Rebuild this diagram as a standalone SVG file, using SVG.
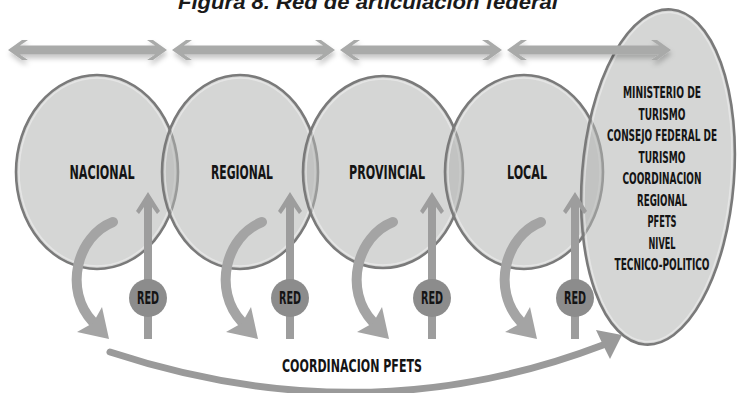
<svg xmlns="http://www.w3.org/2000/svg" width="739" height="393" viewBox="0 0 739 393">
<defs>
<filter id="sh" x="-10%" y="-50%" width="120%" height="250%">
<feDropShadow dx="1" dy="4" stdDeviation="2.5" flood-color="#000" flood-opacity="0.22"/>
</filter>
</defs>
<style>
.node{fill:#b3b4b3;fill-opacity:0.55;stroke:#7a7a7a;stroke-width:2.6}
.rim{fill:none;stroke:#f2f2f2;stroke-opacity:0.55;stroke-width:1.5}
.lbl{font-family:"DejaVu Sans Condensed","DejaVu Sans",sans-serif;font-weight:bold;fill:#141414;text-anchor:middle}
.big{font-size:19px}
.sm{font-size:16.5px}
.rd{font-size:17px}
.top{fill:#a9aaa9;filter:url(#sh)}
.up{fill:#9d9d9d}
.curve{fill:none;stroke:#a4a4a4;stroke-width:10;stroke-linecap:round}
.head{fill:#a4a4a4}
.bcurve{fill:none;stroke:#9a9a9a;stroke-width:7;stroke-linecap:round}
.bhead{fill:#9a9a9a}
.red{fill:#8c8c8c}
</style>
<rect width="739" height="393" fill="#ffffff"/>
<text x="368" y="9" font-family="Liberation Sans, Arial, sans-serif" font-size="21" font-weight="bold" font-style="italic" fill="#1a1a1a" text-anchor="middle" textLength="380" lengthAdjust="spacingAndGlyphs">Figura 8. Red de articulación federal</text>

<g id="nacional">
<ellipse class="node" cx="97" cy="172" rx="81" ry="97"/>
<ellipse class="rim" cx="97" cy="172" rx="78" ry="94"/>
<text class="lbl big" x="102" y="179" textLength="65" lengthAdjust="spacingAndGlyphs">NACIONAL</text>
</g>
<g id="regional">
<ellipse class="node" cx="240" cy="172" rx="78" ry="97"/>
<ellipse class="rim" cx="240" cy="172" rx="75" ry="94"/>
<text class="lbl big" x="242" y="179" textLength="62" lengthAdjust="spacingAndGlyphs">REGIONAL</text>
</g>
<g id="provincial">
<ellipse class="node" cx="383" cy="172" rx="80" ry="96"/>
<ellipse class="rim" cx="383" cy="172" rx="77" ry="93"/>
<text class="lbl big" x="387" y="179" textLength="76" lengthAdjust="spacingAndGlyphs">PROVINCIAL</text>
</g>
<g id="local">
<ellipse class="node" cx="524" cy="172" rx="79" ry="97"/>
<ellipse class="rim" cx="524" cy="172" rx="76" ry="94"/>
<text class="lbl big" x="527" y="179" textLength="40" lengthAdjust="spacingAndGlyphs">LOCAL</text>
</g>
<g id="ministerio">
<ellipse class="node" cx="658" cy="177" rx="76" ry="168" transform="rotate(4.5 658 177)"/>
<ellipse class="rim" cx="658" cy="177" rx="73" ry="165" transform="rotate(4.5 658 177)"/>
<text class="lbl sm" x="662" y="98" textLength="78" lengthAdjust="spacingAndGlyphs">MINISTERIO DE</text>
<text class="lbl sm" x="662" y="119.5" textLength="47" lengthAdjust="spacingAndGlyphs">TURISMO</text>
<text class="lbl sm" x="662" y="141" textLength="110" lengthAdjust="spacingAndGlyphs">CONSEJO FEDERAL DE</text>
<text class="lbl sm" x="662" y="162.5" textLength="47" lengthAdjust="spacingAndGlyphs">TURISMO</text>
<text class="lbl sm" x="662" y="184" textLength="79" lengthAdjust="spacingAndGlyphs">COORDINACION</text>
<text class="lbl sm" x="662" y="205.5" textLength="50" lengthAdjust="spacingAndGlyphs">REGIONAL</text>
<text class="lbl sm" x="662" y="227" textLength="29" lengthAdjust="spacingAndGlyphs">PFETS</text>
<text class="lbl sm" x="662" y="248.5" textLength="27" lengthAdjust="spacingAndGlyphs">NIVEL</text>
<text class="lbl sm" x="662" y="270" textLength="95" lengthAdjust="spacingAndGlyphs">TECNICO-POLITICO</text>
</g>

<g id="connectors">
<path class="top" d="M8,50 L22,40 L28,40 L20,45.5 L155,45.5 L147,40 L153,40 L167,50 L153,60 L147,60 L155,54.5 L20,54.5 L28,60 L22,60 Z"/>
<path class="top" d="M172,50 L186,40 L192,40 L184,45.5 L323,45.5 L315,40 L321,40 L335,50 L321,60 L315,60 L323,54.5 L184,54.5 L192,60 L186,60 Z"/>
<path class="top" d="M340,50 L354,40 L360,40 L352,45.5 L490,45.5 L482,40 L488,40 L502,50 L488,60 L482,60 L490,54.5 L352,54.5 L360,60 L354,60 Z"/>
<path class="top" d="M507,50 L521,40 L527,40 L519,45.5 L659,45.5 L651,40 L657,40 L671,50 L657,60 L651,60 L659,54.5 L519,54.5 L527,60 L521,60 Z"/>

<path class="up" d="M148,192 L160,211 L157,214 L152,207 L152,339 L144,339 L144,207 L139,214 L136,211 Z"/>
<path class="up" d="M290,192 L302,211 L299,214 L294,207 L294,339 L286,339 L286,207 L281,214 L278,211 Z"/>
<path class="up" d="M432,192 L444,211 L441,214 L436,207 L436,339 L428,339 L428,207 L423,214 L420,211 Z"/>
<path class="up" d="M575,192 L587,211 L584,214 L579,207 L579,339 L571,339 L571,207 L566,214 L563,211 Z"/>

<path class="curve" d="M113,222 C77,236 63,290 93,322"/>
<polygon class="head" points="109,339 77,332 93,323 102,307"/>
<path class="curve" d="M262,222 C226,236 212,290 242,322"/>
<polygon class="head" points="258,339 226,332 242,323 251,307"/>
<path class="curve" d="M393,222 C357,236 343,290 373,322"/>
<polygon class="head" points="389,339 357,332 373,323 382,307"/>
<path class="curve" d="M541,222 C505,236 491,290 521,322"/>
<polygon class="head" points="537,339 505,332 521,323 530,307"/>

<path class="bcurve" d="M110,352 Q365,436 603,345"/>
<polygon class="bhead" points="622,335 596,330 603,345 610,359"/>
</g>

<g id="red1"><circle class="red" cx="148" cy="298" r="19"/><text class="lbl rd" x="148" y="304" textLength="22" lengthAdjust="spacingAndGlyphs">RED</text></g>
<g id="red2"><circle class="red" cx="290" cy="298" r="19"/><text class="lbl rd" x="290" y="304" textLength="22" lengthAdjust="spacingAndGlyphs">RED</text></g>
<g id="red3"><circle class="red" cx="432" cy="298" r="19"/><text class="lbl rd" x="432" y="304" textLength="22" lengthAdjust="spacingAndGlyphs">RED</text></g>
<g id="red4"><circle class="red" cx="575" cy="298" r="19"/><text class="lbl rd" x="575" y="304" textLength="22" lengthAdjust="spacingAndGlyphs">RED</text></g>

<g id="coordinacion">
<text class="lbl" x="352" y="372" font-size="17.5" textLength="140" lengthAdjust="spacingAndGlyphs">COORDINACION PFETS</text>
</g>
</svg>
